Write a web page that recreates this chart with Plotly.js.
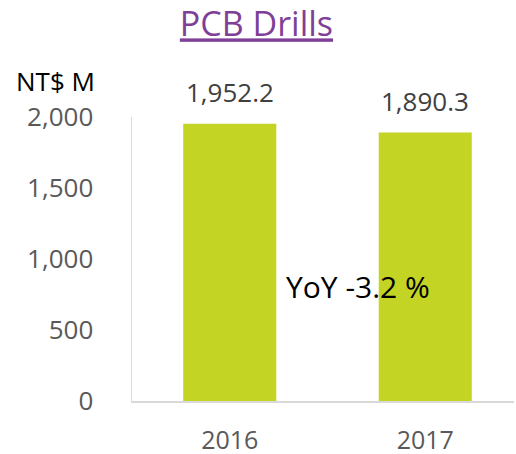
<!DOCTYPE html>
<html><head><meta charset="utf-8">
<script src="https://cdn.plot.ly/plotly-3.0.1.min.js"></script>
<style>html,body{margin:0;padding:0;background:#fff}#c{width:516px;height:454px}</style>
</head><body><div id="c"></div>
<script>
const years = ['2016', '2017'];
const revenue = [1952.2, 1890.3];
const valueLabels = ['1,952.2', '1,890.3'];
const yoyText = 'YoY -3.2 %';
const unitText = 'NT$ M';
const titleText = 'PCB Drills';

const font = 'Open Sans, sans-serif';
const trace = {
  type: 'bar', x: years, y: revenue,
  marker: {color: '#c3d424'},
  hoverinfo: 'none'
};
const ann = years.map((yr, i) => ({
  x: i, y: revenue[i], xref: 'x', yref: 'y', text: valueLabels[i],
  showarrow: false, yanchor: 'bottom', yshift: 12,
  font: {family: font, size: 26, color: '#404040'}
}));
ann.push({x: 0.656, y: 803, xref: 'x', yref: 'y', text: yoyText, showarrow: false,
  xanchor: 'center', yanchor: 'middle',
  font: {family: font, size: 30, color: '#000'}});
ann.push({xref: 'paper', yref: 'paper', x: (55 - 132) / 382, y: (401 - 81) / 284,
  text: unitText, showarrow: false, xanchor: 'center', yanchor: 'middle',
  font: {family: font, size: 26, color: '#000'}});
const layout = {
  width: 516, height: 454,
  margin: {l: 132, r: 2, t: 117, b: 53},
  paper_bgcolor: '#fff', plot_bgcolor: '#fff',
  showlegend: false, bargap: 0.524,
  title: {text: '<span style="text-decoration:underline">' + titleText + '</span>',
    font: {family: font, size: 34, color: '#7f3f98'}, x: 0.497, xanchor: 'center',
    y: 0.946, yanchor: 'middle'},
  xaxis: {type: 'category', range: [-0.5, 1.454], showgrid: false, zeroline: false,
    showline: true, linecolor: '#d9d9d9', linewidth: 1.5, ticks: '',
    tickfont: {family: font, size: 25, color: '#595959'}, ticklabelstandoff: 16},
  yaxis: {range: [0, 2000], dtick: 500, tickformat: ',d', showgrid: false, zeroline: false,
    showline: true, linecolor: '#d9d9d9', linewidth: 1.5, ticks: '',
    tickfont: {family: font, size: 26, color: '#595959'}, ticklabelstandoff: 32},
  annotations: ann
};
Plotly.newPlot('c', [trace], layout, {staticPlot: true});
</script></body></html>
